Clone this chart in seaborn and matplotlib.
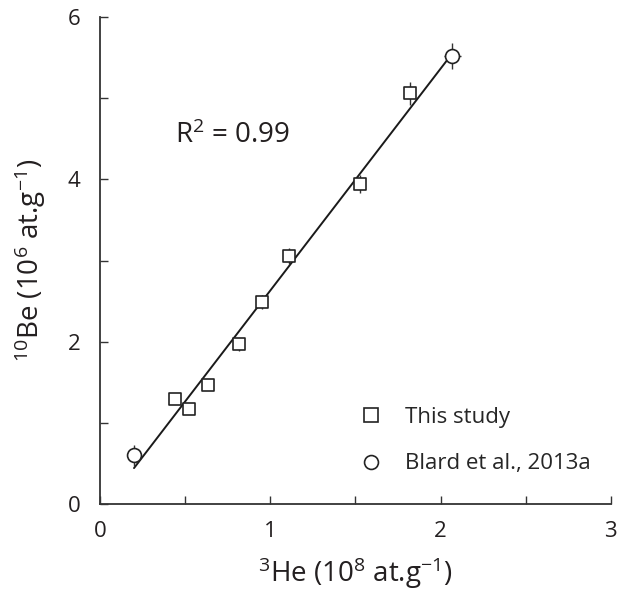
import numpy as np
import pandas as pd
import matplotlib
matplotlib.use("Agg")
import matplotlib.pyplot as plt
import seaborn as sns
from matplotlib.lines import Line2D

# ---- data ----
study_he = [0.443, 0.524, 0.635, 0.818, 0.952, 1.113, 1.525, 1.820]
study_be = [1.30, 1.17, 1.47, 1.97, 2.49, 3.06, 3.94, 5.06]
study_be_err = [0.06, 0.05, 0.06, 0.08, 0.09, 0.10, 0.11, 0.14]
study_he_err = [0.02, 0.02, 0.02, 0.02, 0.02, 0.02, 0.03, 0.03]

blard_he = [0.200, 2.069]
blard_be = [0.60, 5.52]
blard_be_err = [0.13, 0.16]
blard_he_err = [0.02, 0.05]

x_ticks = [0, 0.5, 1, 1.5, 2, 2.5, 3]
x_labels = ["0", "", "1", "", "2", "", "3"]
y_ticks = [0, 1, 2, 3, 4, 5, 6]
y_labels = ["0", "", "2", "", "4", "", "6"]

sns.set_theme(style="white")
plt.rcParams['font.family'] = ['Open Sans', 'DejaVu Sans']
plt.rcParams['mathtext.fontset'] = 'custom'
plt.rcParams['mathtext.rm'] = 'Open Sans'
plt.rcParams['mathtext.it'] = 'Open Sans'

fig = plt.figure(figsize=(6.17, 5.91), dpi=100)
ax = fig.add_axes([0.162, 0.147, 0.828, 0.824])

all_he = study_he + blard_he
all_be = study_be + blard_be
df = pd.DataFrame({"he": all_he, "be": all_be})

sns.regplot(data=df, x="he", y="be", scatter=False, ci=None, truncate=True,
            color="#1a1a1a", line_kws=dict(lw=1.4), ax=ax)

ax.errorbar(study_he, study_be, yerr=study_be_err, xerr=study_he_err, fmt="none",
            ecolor="#333333", elinewidth=1.0, zorder=2)
ax.errorbar(blard_he, blard_be, yerr=blard_be_err, xerr=blard_he_err, fmt="none",
            ecolor="#333333", elinewidth=1.0, zorder=2)

sns.scatterplot(x=study_he, y=study_be, marker="s", s=85, facecolor="white",
                edgecolor="#222222", linewidth=1.2, ax=ax, zorder=3)
sns.scatterplot(x=blard_he, y=blard_be, marker="o", s=100, facecolor="white",
                edgecolor="#222222", linewidth=1.2, ax=ax, zorder=3)

ax.set_xlim(0, 3)
ax.set_ylim(0, 6)
ax.set_xticks(x_ticks)
ax.set_xticklabels(x_labels)
ax.set_yticks(y_ticks)
ax.set_yticklabels(y_labels)
ax.tick_params(axis="both", which="major", bottom=True, left=True, direction="in",
               length=6, width=1.0, color="#333333", labelsize=16, labelcolor="#231f20")
ax.tick_params(axis="x", pad=12)
ax.tick_params(axis="y", pad=14)

for side in ["top", "right"]:
    ax.spines[side].set_visible(False)
for side in ["left", "bottom"]:
    ax.spines[side].set_color("#333333")
    ax.spines[side].set_linewidth(1.3)

ax.set_xlabel(r"$^{3}$He (10$^{8}$ at.g$^{-1}$)", fontsize=20, color="#231f20", labelpad=10)
ax.set_ylabel(r"$^{10}$Be (10$^{6}$ at.g$^{-1}$)", fontsize=20, color="#231f20", labelpad=14)

ax.text(0.44, 4.54, r"R$^{2}$ = 0.99", fontsize=20, color="#231f20", va="center", ha="left")

handles = [
    Line2D([], [], marker="s", linestyle="none", markersize=10, markerfacecolor="white",
           markeredgecolor="#222222", markeredgewidth=1.2, label="This study"),
    Line2D([], [], marker="o", linestyle="none", markersize=10, markerfacecolor="white",
           markeredgecolor="#222222", markeredgewidth=1.2, label="Blard et al., 2013a"),
]
ax.legend(handles=handles, loc="lower left", bbox_to_anchor=(0.47, 0.02), frameon=False,
          fontsize=16, handlelength=1.0, handletextpad=1.0, labelspacing=1.15)

fig.savefig("out.png", dpi=100)
